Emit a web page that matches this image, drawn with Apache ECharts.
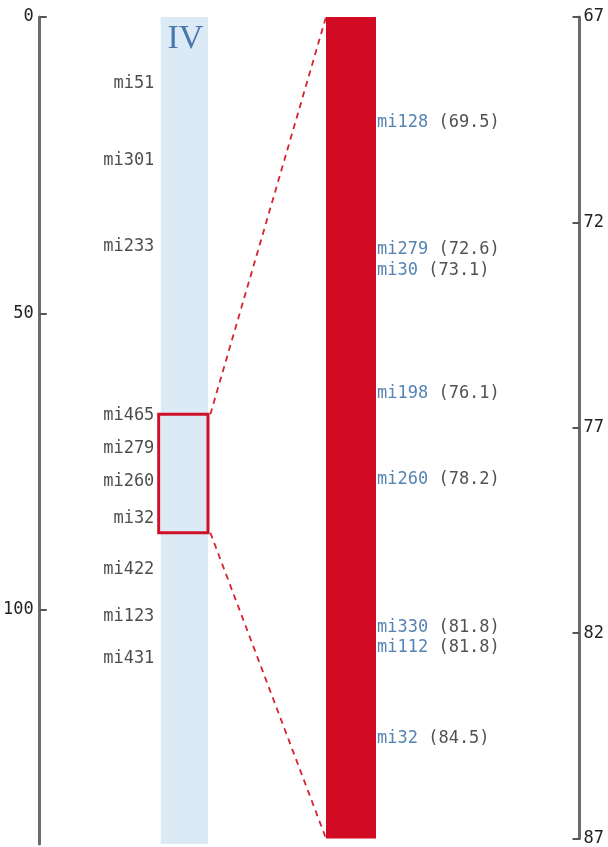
<!DOCTYPE html>
<html>
<head>
<meta charset="utf-8">
<script src="https://cdn.jsdelivr.net/npm/echarts@6/dist/echarts.min.js"></script>
<style>
  html, body { margin: 0; padding: 0; background: #ffffff; }
  #main { width: 608px; height: 847px; }
</style>
</head>
<body>
<div id="main"></div>
<script>
// whole linkage group IV (cM)
var chromName = "IV";
var chromLength = 139.5;
var leftTicks = [0, 50, 100];
var leftMarkers = ["mi51", "mi301", "mi233", "mi465", "mi279", "mi260", "mi32", "mi422", "mi123", "mi431"];
var leftPos = [11, 24, 38.5, 67, 72.6, 78.2, 84.5, 93, 101, 108];

// zoomed interval
var zoomRange = [67, 87];
var rightTicks = [67, 72, 77, 82, 87];
var rightMarkers = ["mi128", "mi279", "mi30", "mi198", "mi260", "mi330", "mi112", "mi32"];
var rightPos = [69.5, 72.6, 73.1, 76.1, 78.2, 81.8, 81.8, 84.5];

var FONT = "DejaVu Sans Mono";
var FS = 17;
var barW = 50;
var lineH = 20; // 标签最小行距

// 画染色体的矩形
function chromRect(params, api) {
  var p0 = api.coord([api.value(0), api.value(1)]);
  var p1 = api.coord([api.value(0), api.value(2)]);
  var w = api.size([1, 0])[0];
  var children = [{
    type: "rect",
    shape: { x: p0[0] - w / 2, y: p0[1], width: w, height: p1[1] - p0[1] },
    style: { fill: api.visual("color") }
  }];
  if (params.seriesIndex === 0) {
    children.push({
      type: "text",
      style: {
        text: chromName, x: p0[0] + 1, y: p0[1] + 5, align: "center", verticalAlign: "top",
        fill: "#4a78ae", font: "34px 'Liberation Serif'"
      }
    });
  }
  return { type: "group", children: children };
}

function zoomBox(params, api) {
  var p0 = api.coord([api.value(0), api.value(1)]);
  var p1 = api.coord([api.value(0), api.value(2)]);
  var w = api.size([1, 0])[0];
  return {
    type: "rect",
    shape: { x: p0[0] - w / 2 - 2, y: p0[1], width: w + 2, height: p1[1] - p0[1] },
    style: { fill: null, stroke: "#d0102a", lineWidth: 3 }
  };
}

var leftData = leftPos.map(function (v, i) {
  return { name: leftMarkers[i], value: [0, v] };
});
var rightData = rightPos.map(function (v, i) {
  return { name: rightMarkers[i], value: [0, v] };
});

var axisCommon = {
  type: "value",
  inverse: true,
  splitLine: { show: false },
  axisLine: { show: true, lineStyle: { color: "#6b6b6b", width: 3 } },
  axisTick: { show: true, inside: true, length: 7, lineStyle: { color: "#555", width: 2 } },
  axisLabel: { color: "#222", fontFamily: FONT, fontSize: FS }
};

var option = {
  backgroundColor: "#ffffff",
  animation: false,
  grid: [
    { left: 158, top: 17, width: barW, height: 827 },
    { left: 326, top: 17, width: barW, height: 822 }
  ],
  xAxis: [
    { gridIndex: 0, type: "category", data: [chromName], show: false },
    { gridIndex: 1, type: "category", data: [chromName], show: false }
  ],
  yAxis: [
    echarts.util.merge({
      gridIndex: 0, min: 0, max: chromLength, position: "left", offset: 121,
      axisTick: { customValues: leftTicks },
      axisLabel: { customValues: leftTicks, margin: 6 }
    }, axisCommon),
    echarts.util.merge({
      gridIndex: 1, min: zoomRange[0], max: zoomRange[1], position: "right", offset: 203.5,
      axisTick: { customValues: rightTicks },
      axisLabel: { customValues: rightTicks, margin: 4 }
    }, axisCommon)
  ],
  series: [
    {
      type: "custom", xAxisIndex: 0, yAxisIndex: 0, silent: true,
      itemStyle: { color: "#dbeaf5" },
      renderItem: chromRect,
      data: [[0, 0, chromLength]]
    },
    {
      type: "custom", xAxisIndex: 1, yAxisIndex: 1, silent: true,
      itemStyle: { color: "#cf0a22" },
      renderItem: chromRect,
      data: [[0, zoomRange[0], zoomRange[1]]]
    },
    {
      type: "custom", xAxisIndex: 0, yAxisIndex: 0, silent: true, z: 5,
      renderItem: zoomBox,
      data: [[0, zoomRange[0], zoomRange[1]]]
    },
    {
      type: "scatter", xAxisIndex: 0, yAxisIndex: 0, symbolSize: 0, silent: true,
      label: {
        show: true, position: "left", distance: barW / 2 + 5, offset: [0, 1],
        formatter: "{b}", color: "#1e1e1e", fontFamily: FONT, fontSize: FS
      },
      data: leftData
    },
    {
      id: "right",
      type: "scatter", xAxisIndex: 1, yAxisIndex: 1, symbolSize: 0, silent: true,
      label: {
        show: true, position: "right", distance: barW / 2 + 1, offset: [0, 3],
        fontFamily: FONT, fontSize: FS, color: "#333",
        formatter: function (p) {
          return "{n|" + p.name + "} {v|(" + p.value[1].toFixed(1) + ")}";
        },
        rich: {
          n: { color: "#2a64a0", fontFamily: FONT, fontSize: FS },
          v: { color: "#262626", fontFamily: FONT, fontSize: FS }
        }
      },
      data: rightData
    }
  ]
};

var myChart = echarts.init(document.getElementById("main"));
myChart.setOption(option);

// 重叠的标签往下挪
var lastY = -Infinity;
rightData.forEach(function (d) {
  var y = myChart.convertToPixel({ xAxisIndex: 1, yAxisIndex: 1 }, d.value)[1];
  var yy = Math.max(y, lastY + lineH);
  if (yy !== y) {
    d.label = { offset: [0, yy - y + 3] };
  }
  lastY = yy;
});

// 两个坐标系之间的虚线
var a0 = myChart.convertToPixel({ xAxisIndex: 0, yAxisIndex: 0 }, [0, zoomRange[0]]);
var a1 = myChart.convertToPixel({ xAxisIndex: 0, yAxisIndex: 0 }, [0, zoomRange[1]]);
var b0 = myChart.convertToPixel({ xAxisIndex: 1, yAxisIndex: 1 }, [0, zoomRange[0]]);
var b1 = myChart.convertToPixel({ xAxisIndex: 1, yAxisIndex: 1 }, [0, zoomRange[1]]);
var dash = { stroke: "#d8202f", lineWidth: 1.8, lineDash: [6, 5] };
myChart.setOption({
  series: [{ id: "right", data: rightData }],
  graphic: [
    { type: "line", silent: true, shape: { x1: a0[0] + barW / 2 + 1, y1: a0[1], x2: b0[0] - barW / 2, y2: b0[1] }, style: dash },
    { type: "line", silent: true, shape: { x1: a1[0] + barW / 2 + 1, y1: a1[1], x2: b1[0] - barW / 2, y2: b1[1] }, style: dash }
  ]
});
</script>
</body>
</html>
